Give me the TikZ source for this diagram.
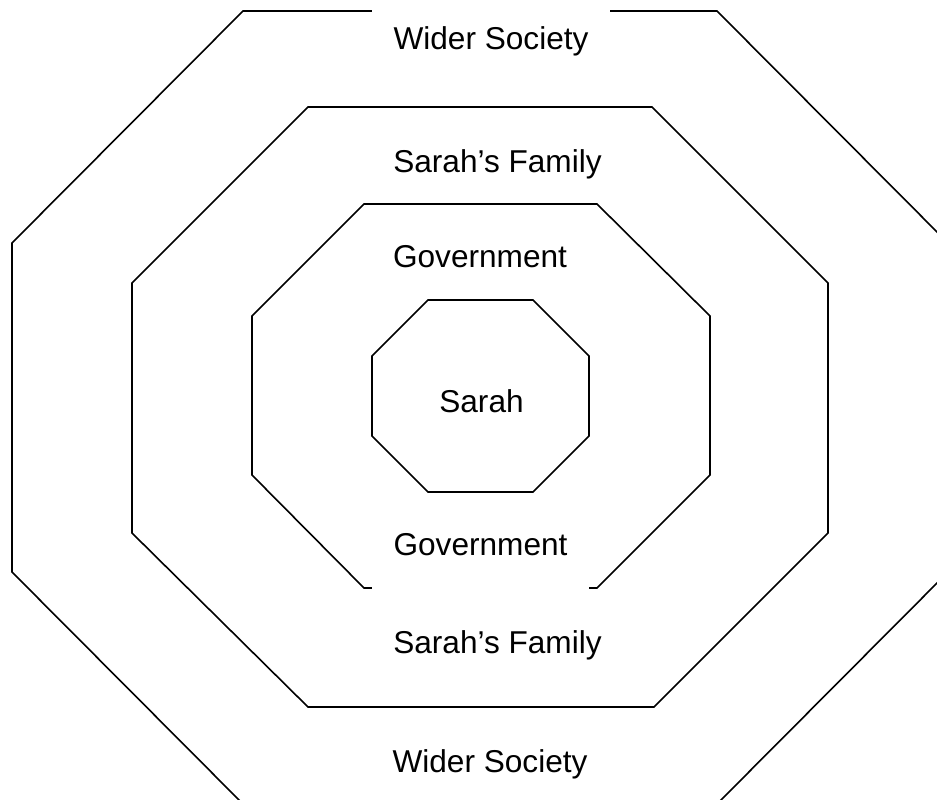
\documentclass[tikz,border=0pt]{standalone}
\usepackage{fontspec}
\setmainfont{Liberation Sans}
\begin{document}
\begin{tikzpicture}[x=1pt,y=-1pt,
  ring/.style={draw=black,line width=1.6pt,line join=miter},
  lbl/.style={anchor=base,inner sep=0pt,font=\fontsize{31.6}{38}\selectfont},
  masklbl/.style={lbl,fill=white,text height=41.5pt,text depth=33.5pt,inner xsep=22pt}]
\useasboundingbox (0,0) rectangle (937,800);
\clip (0,0) rectangle (937,800);
\fill[white] (0,0) rectangle (937,800);
% outer ring
\draw[ring] (12,243) -- (243,11) -- (717,11) -- (948,243) -- (948,572) -- (717,804) -- (243,804) -- (12,572) -- cycle;
% second ring
\draw[ring] (132,283) -- (308,107) -- (652,107) -- (828,283) -- (828,533) -- (654,707) -- (308,707) -- (132,533) -- cycle;
% third ring
\draw[ring] (252,316) -- (364,204) -- (597,204) -- (710,316) -- (710,475) -- (597,588) -- (364,588) -- (252,475) -- cycle;
% inner ring
\draw[ring] (372,356) -- (428,300) -- (533,300) -- (589,356) -- (589,436) -- (533,492) -- (428,492) -- (372,436) -- cycle;
% labels
\node[masklbl] (wtop) at (491,50) {Wider Society};
\node[lbl] (ftop) at (497.5,172) {Sarah’s Family};
\node[lbl] (gtop) at (480,267) {Government};
\node[lbl] (sarah) at (481.5,412) {Sarah};
\node[masklbl] (gbot) at (480.5,555) {Government};
\node[lbl] (fbot) at (497.5,653) {Sarah’s Family};
\node[lbl] (wbot) at (490,772) {Wider Society};
\end{tikzpicture}
\end{document}
